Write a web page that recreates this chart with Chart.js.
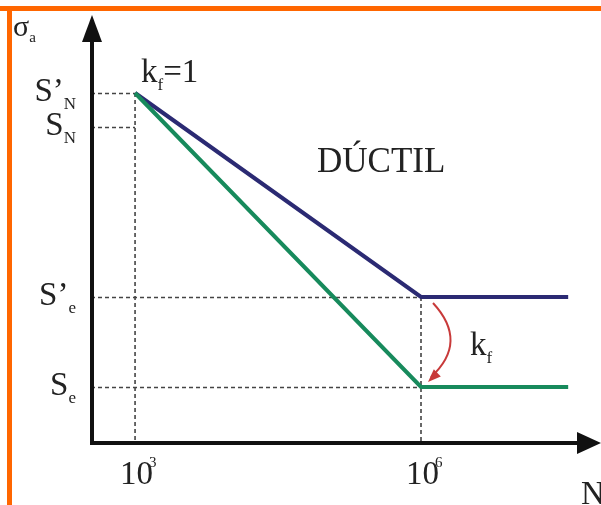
<!DOCTYPE html>
<html lang="es">
<head>
<meta charset="UTF-8">
<title>Curva S-N dúctil</title>
<script src="https://cdn.jsdelivr.net/npm/chart.js@4.4.0/dist/chart.umd.min.js"></script>
<style>
  body { margin: 0; background: #fff; }
  canvas { display: block; }
</style>
</head>
<body>
<canvas id="sn" width="601" height="505"></canvas>
<script>
  // ciclos N (eje logaritmico)
  const cycles = [1e3, 1e6, 3.5e7];
  // amplitud sin entalla (kf=1) y con entalla
  const smoothAmp = [350, 146, 146];
  const notchedAmp = [350, 56, 56];
  // niveles marcados en el eje vertical y hasta que N llega la guia
  const levelValues = [350, 316, 146, 56];
  const levelNames = [['S’', 'N'], ['S', 'N'], ['S’', 'e'], ['S', 'e']];
  const levelGuideN = [1e3, 1e3, 1e6, 1e6];
  const tickValues = [1e3, 1e6];
  const tickExp = ['3', '6'];
  const nMin = 345, nMax = 7.55e7, sMax = 428;

  const SERIF = '"Liberation Serif", "Times New Roman", serif';
  const INK = '#222';

  function font(px) { return px + 'px ' + SERIF; }

  // texto con subindice
  function sub(ctx, main, small, x, y, size, smallSize, drop) {
    ctx.font = font(size);
    ctx.fillText(main, x, y);
    const w = ctx.measureText(main).width;
    ctx.font = font(smallSize);
    ctx.fillText(small, x + w, y + drop);
    return x + w + ctx.measureText(small).width;
  }

  const drawing = {
    id: 'drawing',
    beforeDraw(chart) {
      const ctx = chart.ctx;
      ctx.save();
      ctx.fillStyle = '#fff';
      ctx.fillRect(0, 0, chart.width, chart.height);
      ctx.fillStyle = '#ff6600';
      ctx.fillRect(0, 6, chart.width, 5);
      ctx.fillRect(7, 6, 5, chart.height - 6);
      ctx.restore();
    },
    beforeDatasetsDraw(chart) {
      const ctx = chart.ctx, a = chart.chartArea;
      const xs = chart.scales.x, ys = chart.scales.y;
      ctx.save();
      ctx.strokeStyle = '#444';
      ctx.lineWidth = 1.6;
      ctx.setLineDash([4, 3]);
      levelValues.forEach((v, i) => {
        const y = Math.round(ys.getPixelForValue(v)) + 0.5;
        ctx.beginPath();
        ctx.moveTo(a.left, y);
        ctx.lineTo(xs.getPixelForValue(levelGuideN[i]), y);
        ctx.stroke();
      });
      ctx.beginPath();
      ctx.moveTo(xs.getPixelForValue(cycles[0]), ys.getPixelForValue(smoothAmp[0]));
      ctx.lineTo(xs.getPixelForValue(cycles[0]), a.bottom);
      ctx.moveTo(xs.getPixelForValue(cycles[1]), ys.getPixelForValue(smoothAmp[1]));
      ctx.lineTo(xs.getPixelForValue(cycles[1]), a.bottom);
      ctx.stroke();
      ctx.restore();
    },
    afterDatasetsDraw(chart) {
      const ctx = chart.ctx, a = chart.chartArea;
      const xs = chart.scales.x, ys = chart.scales.y;
      const ox = a.left + 1, oy = a.bottom;
      ctx.save();

      // ejes con flecha
      ctx.strokeStyle = '#111';
      ctx.fillStyle = '#111';
      ctx.lineWidth = 4;
      ctx.beginPath();
      ctx.moveTo(ox, 38);
      ctx.lineTo(ox, oy);
      ctx.lineTo(580, oy);
      ctx.stroke();
      ctx.beginPath();
      ctx.moveTo(ox, 15);
      ctx.lineTo(ox - 10, 42);
      ctx.lineTo(ox + 10, 42);
      ctx.closePath();
      ctx.fill();
      ctx.beginPath();
      ctx.moveTo(601, oy);
      ctx.lineTo(577, oy - 11);
      ctx.lineTo(577, oy + 11);
      ctx.closePath();
      ctx.fill();

      // flecha roja kf
      const x6 = xs.getPixelForValue(cycles[1]);
      const p0 = { x: x6 + 12, y: ys.getPixelForValue(smoothAmp[1]) + 6 };
      const c = { x: x6 + 48, y: ys.getPixelForValue((smoothAmp[1] + notchedAmp[1]) / 2) };
      const p1 = { x: x6 + 7, y: ys.getPixelForValue(notchedAmp[1]) - 5 };
      ctx.strokeStyle = '#c83a3a';
      ctx.fillStyle = '#c83a3a';
      ctx.lineWidth = 2;
      ctx.beginPath();
      ctx.moveTo(p0.x, p0.y);
      ctx.quadraticCurveTo(c.x, c.y, p1.x + 3, p1.y - 5);
      ctx.stroke();
      const ang = Math.atan2(p1.y - c.y, p1.x - c.x);
      ctx.beginPath();
      ctx.moveTo(p1.x, p1.y);
      ctx.lineTo(p1.x - 13 * Math.cos(ang) + 5 * Math.sin(ang), p1.y - 13 * Math.sin(ang) - 5 * Math.cos(ang));
      ctx.lineTo(p1.x - 13 * Math.cos(ang) - 5 * Math.sin(ang), p1.y - 13 * Math.sin(ang) + 5 * Math.cos(ang));
      ctx.closePath();
      ctx.fill();

      // textos
      ctx.fillStyle = INK;
      ctx.textBaseline = 'alphabetic';
      ctx.textAlign = 'left';
      sub(ctx, 'σ', 'a', 13, 36, 30, 15, 6);

      levelValues.forEach((v, i) => {
        const y = ys.getPixelForValue(v) + 8;
        ctx.font = font(33);
        const w1 = ctx.measureText(levelNames[i][0]).width;
        ctx.font = font(17);
        const w2 = ctx.measureText(levelNames[i][1]).width;
        sub(ctx, levelNames[i][0], levelNames[i][1], 76 - w1 - w2, y, 33, 17, 8);
      });

      tickValues.forEach((v, i) => {
        const x = xs.getPixelForValue(v);
        ctx.font = font(33);
        ctx.fillText('10', x - 15, 484);
        ctx.font = font(15);
        ctx.fillText(tickExp[i], x + 14, 467);
      });

      const kx = xs.getPixelForValue(cycles[0]) + 6;
      const end = sub(ctx, 'k', 'f', kx, 82, 33, 17, 8);
      ctx.font = font(33);
      ctx.fillText('=1', end, 82);

      sub(ctx, 'k', 'f', x6 + 49, 355, 33, 17, 8);

      ctx.font = font(35);
      ctx.fillText('DÚCTIL', 317, 172);

      ctx.font = font(33);
      ctx.fillText('N', 581, 504);
      ctx.restore();
    }
  };

  new Chart(document.getElementById('sn'), {
    type: 'line',
    data: {
      labels: cycles,
      datasets: [{
        label: 'con entalla',
        data: cycles.map((n, i) => ({ x: n, y: notchedAmp[i] })),
        borderColor: '#178a5c',
        borderWidth: 4,
        pointRadius: 0,
        tension: 0
      }, {
        label: 'kf = 1',
        data: cycles.map((n, i) => ({ x: n, y: smoothAmp[i] })),
        borderColor: '#2b2a73',
        borderWidth: 4,
        pointRadius: 0,
        tension: 0
      }]
    },
    options: {
      responsive: false,
      animation: false,
      layout: { padding: { left: 91, right: 1, top: 15, bottom: 62 } },
      plugins: { legend: { display: false }, tooltip: { enabled: false } },
      scales: {
        x: { type: 'logarithmic', min: nMin, max: nMax, display: false },
        y: { type: 'linear', min: 0, max: sMax, display: false }
      }
    },
    plugins: [drawing]
  });
</script>
</body>
</html>
